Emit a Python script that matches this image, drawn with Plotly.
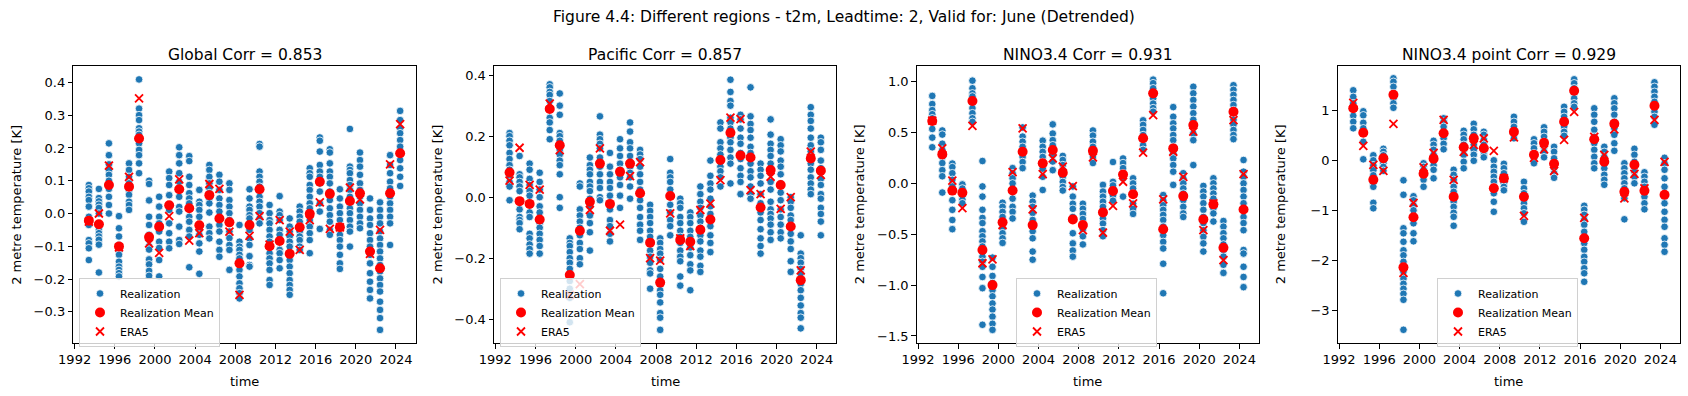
import plotly.graph_objects as go
import pandas as pd

# ---------------- data ----------------
years = list(range(1993, 2025))
x_tick_years = [1992, 1996, 2000, 2004, 2008, 2012, 2016, 2020, 2024]
x_tick_labels = [str(y) for y in x_tick_years]

suptitle = "Figure 4.4: Different regions - t2m, Leadtime: 2, Valid for: June (Detrended)"
titles = ["Global Corr = 0.853", "Pacific Corr = 0.857", "NINO3.4 Corr = 0.931", "NINO3.4 point Corr = 0.929"]
y_label = "2 metre temperature [K]"
x_label = "time"
legend_names = ["Realization", "Realization Mean", "ERA5"]

# Global
g_real = [
    [0.087, 0.077, 0.067, 0.051, 0.041, 0.021, -0.01, -0.02, -0.035, -0.081, -0.091, -0.106, -0.142],
    [0.075, 0.047, 0.037, 0.027, 0.017, 0.0, -0.05, -0.06, -0.07, -0.08, -0.095, -0.18],
    [0.214, 0.178, 0.15, 0.133, 0.118, 0.1, 0.075, 0.051, 0.026, 0.0],
    [-0.008, -0.045, -0.07, -0.096, -0.116, -0.126, -0.147, -0.162, -0.172, -0.182, -0.192],
    [0.153, 0.133, 0.112, 0.092, 0.072, 0.057, 0.036, 0.026, 0.011],
    [0.409, 0.32, 0.3, 0.285, 0.26, 0.25, 0.24, 0.214, 0.194, 0.178, 0.153, 0.123],
    [0.1, 0.09, 0.04, -0.01, -0.035, -0.065, -0.08, -0.1, -0.11, -0.14, -0.155, -0.175, -0.19],
    [0.051, 0.021, -0.01, -0.03, -0.055, -0.086, -0.105, -0.142, -0.192],
    [0.128, 0.108, 0.087, 0.056, 0.026, 0.011, -0.03, -0.06, -0.086, -0.106],
    [0.202, 0.178, 0.153, 0.123, 0.097, 0.072, 0.051, 0.02, 0.006, -0.04, -0.081, -0.093],
    [0.175, 0.16, 0.112, 0.087, 0.062, 0.046, 0.031, -0.01, -0.025, -0.05, -0.07, -0.164],
    [0.072, 0.036, 0.026, 0.011, -0.01, -0.05, -0.065, -0.091, -0.116, -0.184],
    [0.148, 0.133, 0.112, 0.092, 0.077, 0.062, 0.046, 0.031, 0.003, -0.04, -0.06, -0.076],
    [0.118, 0.097, 0.072, 0.046, 0.026, 0.006, -0.035, -0.055, -0.086, -0.111, -0.132],
    [0.092, 0.072, 0.041, 0.021, 0.001, -0.02, -0.055, -0.075, -0.096, -0.111, -0.172],
    [-0.035, -0.086, -0.101, -0.111, -0.126, -0.137, -0.172, -0.192, -0.213, -0.228, -0.243, -0.259],
    [0.074, 0.046, 0.021, 0.011, -0.005, -0.015, -0.035, -0.05, -0.076, -0.096, -0.13, -0.157, -0.162],
    [0.212, 0.204, 0.128, 0.112, 0.097, 0.082, 0.067, 0.051, 0.036, 0.021, 0.001, -0.015, -0.03],
    [0.026, 0.001, -0.02, -0.03, -0.05, -0.07, -0.086, -0.101, -0.121, -0.137, -0.152, -0.172, -0.203, -0.218],
    [0.053, 0.006, -0.005, -0.02, -0.05, -0.065, -0.086, -0.111, -0.121, -0.142, -0.167],
    [-0.015, -0.04, -0.055, -0.07, -0.086, -0.101, -0.121, -0.142, -0.162, -0.182, -0.203, -0.218, -0.233, -0.248],
    [0.021, 0.006, -0.01, -0.025, -0.04, -0.055, -0.07, -0.081, -0.101, -0.111],
    [0.138, 0.123, 0.112, 0.087, 0.072, 0.051, 0.031, 0.016, -0.005, -0.02, -0.04, -0.06, -0.081, -0.121],
    [0.232, 0.222, 0.189, 0.148, 0.128, 0.112, 0.092, 0.067, 0.031, 0.006, -0.047],
    [0.196, 0.186, 0.153, 0.128, 0.112, 0.092, 0.067, 0.041, 0.016, -0.005, -0.025, -0.05, -0.065],
    [0.074, 0.046, 0.021, 0.001, -0.02, -0.04, -0.065, -0.081, -0.101, -0.126, -0.152, -0.169],
    [0.258, 0.143, 0.133, 0.123, 0.102, 0.087, 0.072, 0.051, 0.031, 0.016, 0.001, -0.02, -0.04, -0.055, -0.101],
    [0.186, 0.163, 0.143, 0.118, 0.092, 0.072, 0.051, 0.031, 0.011, -0.01, -0.03, -0.045],
    [0.046, 0.011, -0.015, -0.035, -0.06, -0.081, -0.101, -0.126, -0.152, -0.182, -0.208, -0.233, -0.259],
    [0.034, 0.011, -0.01, -0.03, -0.055, -0.076, -0.096, -0.116, -0.137, -0.157, -0.177, -0.198, -0.218, -0.238, -0.269, -0.294, -0.319, -0.355],
    [0.178, 0.148, 0.123, 0.097, 0.077, 0.051, 0.031, 0.011, -0.01, -0.03, -0.096],
    [0.313, 0.285, 0.26, 0.245, 0.224, 0.204, 0.184, 0.163, 0.138, 0.112, 0.084],
]
g_mean = [-0.022, -0.033, 0.087, -0.101, 0.082, 0.229, -0.072, -0.04, 0.025, 0.074, 0.016, -0.036, 0.056, -0.015, -0.027, -0.152,
          -0.035, 0.074, -0.1, -0.084, -0.123, -0.042, -0.001, 0.097, 0.06, -0.042, 0.038, 0.062, -0.116, -0.167, 0.062, 0.184]
g_era5 = [-0.025, 0.0, 0.146, -0.103, 0.112, 0.351, -0.091, -0.12, -0.008, 0.104, -0.083, -0.06, 0.09, 0.075, -0.055, -0.248,
          -0.068, -0.008, -0.095, -0.02, -0.055, -0.111, -0.02, 0.034, -0.047, -0.042, 0.079, 0.043, -0.123, -0.05, 0.15, 0.273]

# Pacific
p_real = [
    [0.21, 0.2, 0.185, 0.17, 0.145, 0.125, 0.105, 0.09, 0.07, 0.05, 0.035, -0.01],
    [0.135, 0.075, 0.065, 0.05, 0.035, 0.02, -0.015, -0.04, -0.065, -0.075, -0.085, -0.105],
    [0.11, 0.09, 0.06, 0.04, 0.02, 0.005, -0.025, -0.05, -0.065, -0.12, -0.135, -0.155, -0.17, -0.185],
    [0.08, 0.05, 0.025, 0.0, -0.03, -0.05, -0.085, -0.1, -0.12, -0.14, -0.16, -0.185],
    [0.37, 0.36, 0.345, 0.335, 0.315, 0.29, 0.26, 0.245, 0.22, 0.19],
    [0.34, 0.3, 0.27, 0.21, 0.2, 0.185, 0.17, 0.155, 0.14, 0.12, 0.105, 0.075, 0.0, -0.035],
    [-0.135, -0.15, -0.16, -0.18, -0.2, -0.215, -0.235, -0.255, -0.275, -0.3, -0.33, -0.41],
    [0.045, 0.035, -0.04, -0.06, -0.08, -0.1, -0.125, -0.15, -0.17, -0.2, -0.22],
    [0.13, 0.105, 0.09, 0.075, 0.05, 0.035, 0.02, -0.005, -0.03, -0.06, -0.085, -0.115, -0.175],
    [0.265, 0.205, 0.19, 0.175, 0.16, 0.13, 0.1, 0.075, 0.05, 0.03, 0.0, -0.01],
    [0.145, 0.1, 0.075, 0.05, 0.03, 0.005, -0.025, -0.04, -0.075, -0.095, -0.12, -0.145],
    [0.19, 0.16, 0.135, 0.11, 0.09, 0.065, 0.04, 0.005, -0.035],
    [0.245, 0.215, 0.18, 0.16, 0.135, 0.1, 0.08, 0.065, 0.035, -0.005],
    [0.155, 0.14, 0.125, 0.1, 0.075, 0.05, 0.025, -0.01, -0.035, -0.065, -0.09, -0.11, -0.14],
    [-0.025, -0.045, -0.065, -0.085, -0.11, -0.13, -0.15, -0.175, -0.195, -0.215, -0.24, -0.25, -0.3],
    [-0.135, -0.15, -0.17, -0.185, -0.205, -0.235, -0.26, -0.285, -0.305, -0.32, -0.345, -0.38, -0.395, -0.435],
    [0.125, 0.08, 0.065, 0.05, 0.025, 0.005, -0.025, -0.05, -0.075, -0.095, -0.125],
    [-0.005, -0.02, -0.035, -0.065, -0.085, -0.11, -0.13, -0.15, -0.175, -0.195, -0.21, -0.26, -0.29],
    [-0.05, -0.065, -0.085, -0.11, -0.13, -0.145, -0.165, -0.19, -0.22, -0.24, -0.305],
    [0.035, 0.01, -0.015, -0.035, -0.06, -0.08, -0.1, -0.125, -0.145, -0.175, -0.195, -0.225, -0.245],
    [0.12, 0.07, 0.045, 0.025, -0.005, -0.03, -0.055, -0.075, -0.095, -0.125, -0.15, -0.18],
    [0.245, 0.225, 0.18, 0.16, 0.14, 0.12, 0.1, 0.085, 0.065, 0.035],
    [0.385, 0.345, 0.315, 0.3, 0.26, 0.245, 0.225, 0.195, 0.18, 0.155, 0.13, 0.11, 0.045],
    [0.27, 0.255, 0.225, 0.195, 0.175, 0.145, 0.125, 0.095, 0.07, 0.05, 0.01],
    [0.36, 0.265, 0.24, 0.22, 0.195, 0.165, 0.145, 0.11, 0.085, 0.065, 0.035, 0.01, -0.005],
    [0.11, 0.09, 0.07, 0.045, 0.01, -0.02, -0.05, -0.075, -0.105, -0.135, -0.16, -0.185],
    [0.255, 0.205, 0.175, 0.155, 0.135, 0.11, 0.08, 0.05, 0.025, -0.015, -0.04, -0.055, -0.07, -0.09, -0.115, -0.14],
    [0.19, 0.17, 0.15, 0.12, 0.1, 0.075, 0.045, 0.015, -0.01, -0.04, -0.065, -0.09, -0.115, -0.135],
    [0.0, -0.015, -0.035, -0.06, -0.075, -0.095, -0.12, -0.145, -0.17, -0.21, -0.245],
    [-0.125, -0.185, -0.2, -0.215, -0.235, -0.25, -0.285, -0.305, -0.33, -0.355, -0.38, -0.395, -0.43],
    [0.295, 0.27, 0.25, 0.225, 0.195, 0.17, 0.15, 0.13, 0.11, 0.09, 0.065, 0.045, 0.025, 0.01],
    [0.195, 0.18, 0.155, 0.12, 0.095, 0.06, 0.04, 0.01, -0.005, -0.035, -0.055, -0.08, -0.125],
]
p_mean = [0.081, -0.013, -0.022, -0.073, 0.289, 0.17, -0.255, -0.11, -0.015, 0.11, -0.022, 0.083, 0.11, 0.013, -0.149, -0.28,
          0.004, -0.14, -0.146, -0.107, -0.073, 0.122, 0.211, 0.137, 0.13, -0.034, 0.089, 0.04, -0.096, -0.272, 0.127, 0.087]
p_era5 = [0.054, 0.162, 0.04, 0.025, 0.307, 0.154, -0.32, -0.285, -0.042, 0.16, -0.11, -0.09, 0.069, 0.115, -0.2, -0.208,
          -0.053, -0.135, -0.16, -0.042, -0.021, 0.056, 0.261, 0.256, 0.023, 0.01, 0.067, -0.038, 0.0, -0.24, 0.149, 0.073]

# NINO3.4
n_real = [
    [0.86, 0.78, 0.72, 0.68, 0.64, 0.6, 0.535, 0.45, 0.355],
    [0.52, 0.48, 0.39, 0.33, 0.26, 0.2, 0.13, 0.07, -0.09],
    [0.195, 0.16, 0.1, 0.035, -0.03, -0.08, -0.165, -0.26, -0.36, -0.45],
    [-0.01, -0.05, -0.09, -0.13, -0.16, -0.195],
    [1.01, 0.935, 0.885, 0.855, 0.8, 0.74, 0.69, 0.64, 0.605],
    [0.22, -0.03, -0.13, -0.26, -0.34, -0.39, -0.47, -0.52, -0.57, -0.62, -0.67, -0.72, -0.77, -0.82, -0.92, -1.03, -1.39],
    [-0.73, -0.82, -0.91, -0.98, -1.05, -1.11, -1.18, -1.24, -1.31, -1.38, -1.44],
    [-0.19, -0.23, -0.28, -0.33, -0.39, -0.44, -0.49, -0.54, -0.585],
    [0.15, 0.1, 0.05, 0.0, -0.08, -0.15, -0.23, -0.28, -0.345],
    [0.55, 0.46, 0.41, 0.36, 0.31, 0.26, 0.21, 0.15],
    [-0.12, -0.18, -0.23, -0.29, -0.36, -0.42, -0.47, -0.54, -0.67, -0.75],
    [0.42, 0.36, 0.31, 0.26, 0.21, 0.145, 0.065, -0.065],
    [0.58, 0.49, 0.425, 0.375, 0.33, 0.28, 0.215, 0.13],
    [0.27, 0.23, 0.18, 0.13, 0.065, 0.015, -0.035, -0.07],
    [-0.03, -0.13, -0.2, -0.25, -0.33, -0.49, -0.59, -0.66, -0.72],
    [-0.2, -0.25, -0.3, -0.35, -0.4, -0.45, -0.52, -0.6],
    [0.52, 0.47, 0.41, 0.36, 0.31, 0.26, 0.2],
    [-0.015, -0.08, -0.13, -0.18, -0.23, -0.295, -0.345, -0.395, -0.46, -0.52],
    [0.21, 0.015, -0.02, -0.07, -0.12, -0.17],
    [0.245, 0.2, 0.15, 0.1, 0.05, -0.13],
    [0.05, 0.0, -0.05, -0.1, -0.2, -0.25, -0.3],
    [0.62, 0.575, 0.525, 0.475, 0.425, 0.375, 0.33],
    [1.02, 0.985, 0.935, 0.885, 0.835, 0.785, 0.74, 0.705],
    [-0.115, -0.165, -0.215, -0.26, -0.31, -0.36, -0.425, -0.51, -0.575, -0.64, -0.79, -1.08],
    [0.75, 0.655, 0.59, 0.54, 0.475, 0.425, 0.36, 0.295, 0.245, 0.18, 0.115, -0.015],
    [0.1, 0.05, 0.0, -0.05, -0.1, -0.165, -0.23, -0.295, -0.33],
    [0.95, 0.885, 0.82, 0.755, 0.69, 0.625, 0.56, 0.49, 0.425, 0.18],
    [-0.025, -0.08, -0.13, -0.195, -0.26, -0.33, -0.39, -0.46, -0.525, -0.59, -0.67],
    [0.05, 0.0, -0.05, -0.1, -0.15, -0.2, -0.245, -0.295, -0.375],
    [-0.37, -0.425, -0.49, -0.54, -0.6, -0.655, -0.72, -0.8, -0.88],
    [0.965, 0.92, 0.87, 0.82, 0.77, 0.72, 0.675, 0.625, 0.575, 0.525, 0.475, 0.435],
    [0.23, 0.115, 0.065, 0.0, -0.065, -0.13, -0.195, -0.26, -0.33, -0.39, -0.46, -0.655, -0.69, -0.82, -0.92, -1.02],
]
n_mean = [0.613, 0.285, -0.071, -0.092, 0.81, -0.655, -1.0, -0.383, -0.07, 0.311, -0.41, 0.197, 0.328, 0.105, -0.354, -0.41,
          0.32, -0.285, -0.075, 0.088, -0.107, 0.443, 0.885, -0.45, 0.344, -0.125, 0.574, -0.354, -0.206, -0.633, 0.705, -0.256]
n_era5 = [0.617, 0.344, 0.027, -0.243, 0.565, -0.785, -0.746, -0.409, 0.11, 0.541, -0.256, 0.092, 0.246, 0.164, -0.026, -0.46,
          0.256, -0.485, -0.22, 0.016, -0.196, 0.302, 0.672, -0.157, 0.311, 0.065, 0.509, -0.459, -0.196, -0.754, 0.623, 0.092]

# NINO3.4 point
q_real = [
    [1.4, 1.27, 1.14, 1.02, 0.89, 0.77, 0.64],
    [0.98, 0.9, 0.75, 0.64, 0.54, 0.37, 0.02],
    [0.1, 0.0, -0.1, -0.2, -0.3, -0.4, -0.46, -0.53, -0.85, -0.96],
    [0.23, 0.17, 0.1, 0.04, -0.06, -0.13, -0.21],
    [1.64, 1.57, 1.47, 1.34, 1.24, 1.14, 1.05],
    [-0.4, -0.69, -1.36, -1.46, -1.63, -1.8, -1.9, -2.03, -2.13, -2.23, -2.37, -2.47, -2.57, -2.67, -2.79, -3.39],
    [-0.72, -0.8, -0.9, -1.0, -1.13, -1.26, -1.46, -1.62],
    [-0.06, -0.13, -0.19, -0.29, -0.39, -0.53],
    [0.39, 0.31, 0.21, 0.11, 0.0, -0.1, -0.19, -0.36],
    [0.84, 0.77, 0.67, 0.54, 0.44, 0.33, 0.22],
    [-0.19, -0.29, -0.39, -0.53, -0.63, -0.73, -0.83, -0.93, -1.05, -1.13, -1.31],
    [0.59, 0.51, 0.42, 0.31, 0.21, 0.11, -0.03, -0.16],
    [0.73, 0.62, 0.51, 0.41, 0.31, 0.21, 0.11, -0.01],
    [0.57, 0.51, 0.41, 0.31, 0.24, 0.15, 0.1, 0.06],
    [0.0, -0.13, -0.23, -0.33, -0.43, -0.53, -0.66, -0.83, -1.03],
    [-0.07, -0.16, -0.26, -0.36, -0.46, -0.53, -0.6],
    [0.87, 0.77, 0.67, 0.54, 0.44],
    [-0.43, -0.56, -0.66, -0.76, -0.86, -0.96, -1.06, -1.23],
    [0.42, 0.34, 0.24, 0.14, 0.04, -0.06],
    [0.66, 0.57, 0.47, 0.37, 0.27, 0.17, 0.06],
    [0.27, 0.17, 0.04, -0.06, -0.16, -0.26, -0.35],
    [1.07, 0.97, 0.87, 0.77, 0.67, 0.57, 0.49],
    [1.62, 1.54, 1.44, 1.34, 1.24, 1.14, 1.07],
    [-0.91, -0.99, -1.09, -1.19, -1.29, -1.43, -1.56, -1.66, -1.79, -1.93, -2.03, -2.16, -2.26, -2.43],
    [1.04, 0.91, 0.77, 0.61, 0.47, 0.34, 0.21, 0.07, -0.06, -0.16],
    [0.27, 0.17, 0.07, -0.06, -0.16, -0.29, -0.39, -0.49],
    [1.24, 1.14, 1.04, 0.91, 0.77, 0.64, 0.51, 0.34, 0.19],
    [-0.06, -0.16, -0.26, -0.36, -0.46, -0.56, -0.66, -0.76, -1.18],
    [0.23, 0.11, -0.03, -0.13, -0.23, -0.33, -0.46],
    [-0.24, -0.33, -0.43, -0.53, -0.63, -0.73, -0.86, -0.98],
    [1.56, 1.47, 1.37, 1.27, 1.17, 1.07, 0.97, 0.87, 0.71],
    [0.05, -0.06, -0.19, -0.36, -0.53, -0.73, -0.86, -1.03, -1.19, -1.33, -1.56, -1.69, -1.83],
]
q_mean = [1.04, 0.55, -0.39, 0.04, 1.31, -2.14, -1.14, -0.27, 0.03, 0.54, -0.73, 0.26, 0.44, 0.24, -0.56, -0.36,
          0.57, -0.73, 0.11, 0.35, -0.07, 0.77, 1.39, -1.56, 0.42, -0.03, 0.73, -0.63, -0.09, -0.61, 1.09, -0.69]
q_era5 = [1.15, 0.29, -0.09, -0.21, 0.73, -2.25, -0.85, -0.14, 0.15, 0.81, -0.39, 0.17, 0.31, 0.44, 0.19, -0.36,
          0.46, -1.11, 0.05, 0.22, -0.21, 0.41, 0.97, -1.15, 0.47, 0.11, 0.62, -0.76, -0.27, -0.56, 0.81, -0.03]

y_tick_vals = [
    [-0.3, -0.2, -0.1, 0.0, 0.1, 0.2, 0.3, 0.4],
    [-0.4, -0.2, 0.0, 0.2, 0.4],
    [-1.5, -1.0, -0.5, 0.0, 0.5, 1.0],
    [-3, -2, -1, 0, 1],
]
y_tick_text = [
    ["\u22120.3", "\u22120.2", "\u22120.1", "0.0", "0.1", "0.2", "0.3", "0.4"],
    ["\u22120.4", "\u22120.2", "0.0", "0.2", "0.4"],
    ["\u22121.5", "\u22121.0", "\u22120.5", "0.0", "0.5", "1.0"],
    ["\u22123", "\u22122", "\u22121", "0", "1"],
]
y_ranges = [[-0.395, 0.45], [-0.478, 0.43], [-1.569, 1.154], [-3.654, 1.886]]

# ---------------- figure ----------------
W, H = 1688, 396
FONT = "DejaVu Sans"
BLUE = "#1f77b4"
RED = "#ff0000"

left_px = [73.3, 494.0, 916.7, 1337.7]
plot_w = 342.4
top_px, bot_px = 66.0, 343.0
legend_left_px = [79, 500, 1016, 1437]
legend_top_px = 278

dates = [pd.Timestamp(f"{y}-06-01") for y in years]
span = dates[-1] - dates[0]
x_range = [dates[0] - 0.05 * span, dates[-1] + 0.05 * span]
x_tick_dates = [pd.Timestamp(f"{y}-01-01") for y in x_tick_years]

reals = [g_real, p_real, n_real, q_real]
means = [g_mean, p_mean, n_mean, q_mean]
eras = [g_era5, p_era5, n_era5, q_era5]

fig = go.Figure()
annotations = []
layout = {}

for i in range(4):
    sfx = "" if i == 0 else str(i + 1)
    xa, ya = "x" + sfx, "y" + sfx
    leg = "legend" + sfx
    rx, ry = [], []
    for d, vals in zip(dates, reals[i]):
        rx.extend([d] * len(vals))
        ry.extend(vals)
    fig.add_trace(go.Scatter(
        x=rx, y=ry, mode="markers", name=legend_names[0], xaxis=xa, yaxis=ya, legend=leg,
        marker=dict(color=BLUE, size=7.6, line=dict(color="white", width=0.8)), hoverinfo="skip"))
    fig.add_trace(go.Scatter(
        x=dates, y=means[i], mode="markers", name=legend_names[1], xaxis=xa, yaxis=ya, legend=leg,
        marker=dict(color=RED, size=10, line=dict(color=RED, width=0)), hoverinfo="skip"))
    fig.add_trace(go.Scatter(
        x=dates, y=eras[i], mode="markers", name=legend_names[2], xaxis=xa, yaxis=ya, legend=leg,
        marker=dict(color=RED, symbol="x-thin", size=8, line=dict(color=RED, width=1.8)), hoverinfo="skip"))

    x0 = left_px[i] / W
    x1 = (left_px[i] + plot_w) / W
    y0 = (H - bot_px) / H
    y1 = (H - top_px) / H
    axis_common = dict(showline=True, linecolor="black", linewidth=1, mirror=True, ticks="outside",
                       ticklen=4.5, tickwidth=1, tickcolor="black", showgrid=False, zeroline=False,
                       automargin=False, tickfont=dict(family=FONT, size=13, color="black"))
    layout["xaxis" + sfx] = dict(domain=[x0, x1], anchor=ya, type="date", range=x_range,
                                 tickmode="array", tickvals=x_tick_dates, ticktext=x_tick_labels, **axis_common)
    layout["yaxis" + sfx] = dict(domain=[y0, y1], anchor=xa, range=y_ranges[i],
                                 tickmode="array", tickvals=y_tick_vals[i], ticktext=y_tick_text[i], **axis_common)
    layout[leg] = dict(x=legend_left_px[i] / W, y=(H - legend_top_px) / H, xanchor="left", yanchor="top",
                       bgcolor="rgba(255,255,255,0.8)", bordercolor="#d0d0d0", borderwidth=1,
                       font=dict(family=FONT, size=11, color="black"), tracegroupgap=0, itemwidth=30)

    annotations.append(dict(text=titles[i], x=(x0 + x1) / 2, y=(H - 55) / H, xref="paper", yref="paper",
                            showarrow=False, xanchor="center", yanchor="middle",
                            font=dict(family=FONT, size=15.5, color="black")))
    annotations.append(dict(text=y_label, x=(left_px[i] - 57) / W, y=(y0 + y1) / 2, xref="paper", yref="paper",
                            showarrow=False, xanchor="center", yanchor="middle", textangle=-90,
                            font=dict(family=FONT, size=13, color="black")))
    annotations.append(dict(text=x_label, x=(x0 + x1) / 2, y=(H - 381) / H, xref="paper", yref="paper",
                            showarrow=False, xanchor="center", yanchor="middle",
                            font=dict(family=FONT, size=13, color="black")))

annotations.append(dict(text=suptitle, x=0.5, y=(H - 17) / H, xref="paper", yref="paper", showarrow=False,
                        xanchor="center", yanchor="middle", font=dict(family=FONT, size=15.5, color="black")))

fig.update_layout(width=W, height=H, margin=dict(l=0, r=0, t=0, b=0, autoexpand=False), paper_bgcolor="white",
                  plot_bgcolor="white", annotations=annotations, showlegend=True, **layout)

fig.write_html("out.html", config={"displayModeBar": False},
               post_script="document.body.style.margin='0';document.body.style.overflow='hidden';")
